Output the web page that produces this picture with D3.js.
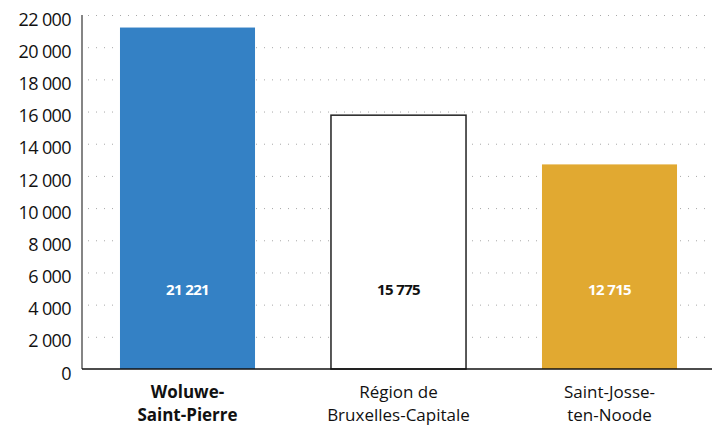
<!DOCTYPE html>
<html>
<head>
<meta charset="utf-8">
<script src="https://cdn.jsdelivr.net/npm/d3@7"></script>
<style>
  body { margin: 0; background: #fff; }
  svg text { font-family: "Open Sans", "Noto Sans", sans-serif; }
</style>
</head>
<body>
<script>
// data
var categories = [['Woluwe-', 'Saint-Pierre'], ['Région de', 'Bruxelles-Capitale'], ['Saint-Josse-', 'ten-Noode']];
var values = [21221, 15775, 12715];
var yTicks = [0, 2000, 4000, 6000, 8000, 10000, 12000, 14000, 16000, 18000, 20000, 22000];
var fills = ['#3481c5', '#ffffff', '#e1a931'];
var labelColors = ['#ffffff', '#111111', '#ffffff'];
var boldCategory = [true, false, false];

var width = 712, height = 427;
var margin = { top: 15, right: -3, bottom: 58, left: 82 };

var svg = d3.select('body')
	.append('svg')
	.attr('width', width)
	.attr('height', height);

var x = d3.scaleBand()
	.domain(d3.range(categories.length))
	.range([margin.left, width - margin.right])
	.paddingInner(0.36)
	.paddingOuter(0.18);

var y = d3.scaleLinear()
	.domain([0, 22000])
	.range([height - margin.bottom, margin.top]);

var fmt = function (v) { return d3.format(',')(v).replace(/,/g, '\u00a0'); };

// grid
svg.append('g')
	.selectAll('line')
	.data(yTicks.filter(function (d) { return d > 0; }))
	.join('line')
	.attr('x1', margin.left + 6)
	.attr('x2', width)
	.attr('y1', function (d) { return y(d) + 0.5; })
	.attr('y2', function (d) { return y(d) + 0.5; })
	.attr('stroke', '#a8a8a8')
	.attr('stroke-width', 1)
	.attr('stroke-dasharray', '1,7');

// y axis labels
var y_axis = d3.axisLeft(y)
	.tickValues(yTicks)
	.tickSize(0)
	.tickPadding(11)
	.tickFormat(fmt);

var gy = svg.append('g')
	.attr('transform', 'translate(' + margin.left + ',0)')
	.call(y_axis);
gy.select('.domain').remove();
gy.selectAll('text')
	.attr('font-size', 18)
	.attr('fill', '#111')
	.attr('letter-spacing', -0.6)
	.attr('dy', '0.95em')
	.attr('y', -7)
	.style('font-family', '"Open Sans", sans-serif');

// bars
svg.append('g')
	.selectAll('rect')
	.data(values)
	.join('rect')
	.attr('x', function (d, i) { return x(i); })
	.attr('y', function (d) { return y(d); })
	.attr('width', x.bandwidth())
	.attr('height', function (d) { return y(0) - y(d); })
	.attr('fill', function (d, i) { return fills[i]; })
	.attr('stroke', function (d, i) { return i === 1 ? '#222' : 'none'; })
	.attr('stroke-width', 1.5);

// value labels
svg.append('g')
	.selectAll('text')
	.data(values)
	.join('text')
	.attr('x', function (d, i) { return x(i) + x.bandwidth() / 2; })
	.attr('y', 295)
	.attr('text-anchor', 'middle')
	.attr('font-size', 15)
	.attr('font-weight', 'bold')
	.attr('letter-spacing', -0.6)
	.attr('fill', function (d, i) { return labelColors[i]; })
	.text(fmt);

// axes lines
svg.append('line')
	.attr('x1', margin.left)
	.attr('x2', margin.left)
	.attr('y1', y(22000))
	.attr('y2', y(0))
	.attr('stroke', '#858585')
	.attr('stroke-width', 2);

svg.append('line')
	.attr('x1', margin.left)
	.attr('x2', width)
	.attr('y1', y(0))
	.attr('y2', y(0))
	.attr('stroke', '#111')
	.attr('stroke-width', 1.5);

// category labels
var cat = svg.append('g')
	.selectAll('text')
	.data(categories)
	.join('text')
	.attr('x', function (d, i) { return x(i) + x.bandwidth() / 2; })
	.attr('y', 398)
	.attr('text-anchor', 'middle')
	.attr('font-size', 17)
	.attr('font-weight', function (d, i) { return boldCategory[i] ? 'bold' : 'normal'; })
	.attr('fill', '#111');

cat.selectAll('tspan')
	.data(function (d) { return d; })
	.join('tspan')
	.attr('x', function () { return d3.select(this.parentNode).attr('x'); })
	.attr('dy', function (d, j) { return j === 0 ? 0 : 23; })
	.text(function (d) { return d; });
</script>
</body>
</html>
